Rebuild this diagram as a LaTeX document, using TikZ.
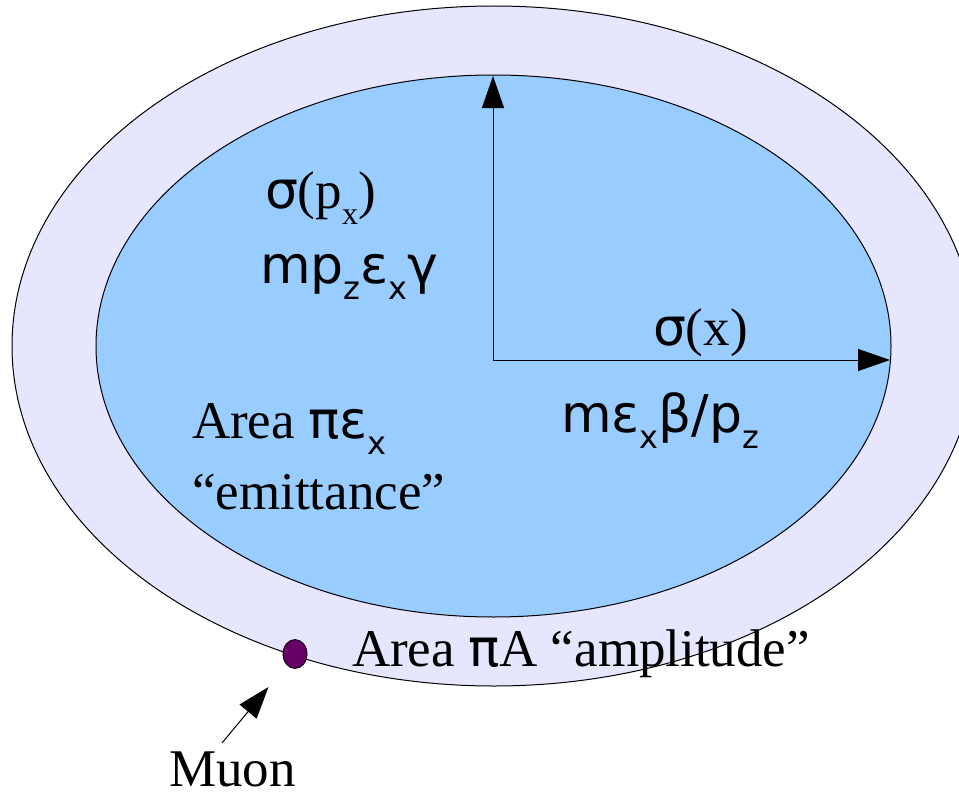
\documentclass[tikz,border=0pt]{standalone}
\usepackage{fontspec}
\setmainfont{Liberation Serif}
\newfontfamily\gr{DejaVu Sans}
\usetikzlibrary{arrows.meta,shapes.geometric}
\newcommand\subsc[1]{\raisebox{-16pt}{\fontsize{32}{32}\selectfont #1}}
\newcommand\serifsize{\fontsize{53}{60}\selectfont}
\newcommand\sanssize{\fontsize{52}{56}\selectfont}
\begin{document}
\begin{tikzpicture}[x=1pt,y=-1pt,
  lbl/.style={anchor=base west,inner sep=0pt,outer sep=0pt},
  bigtip/.style={-{Triangle[length=32pt,width=22pt]}},
  thin line/.style={line width=1pt}]
\useasboundingbox (0,0) rectangle (959,792);
\begin{scope}
\clip (0,0) rectangle (959,792);
\filldraw[fill={rgb,255:red,230;green,230;blue,255},thin line] (494,346) ellipse [x radius=482, y radius=340];
\end{scope}
\filldraw[fill={rgb,255:red,153;green,204;blue,255},thin line] (493.5,346) ellipse [x radius=397.5, y radius=271];
\coordinate (O) at (493,360);
\coordinate (T) at (493,76);
\coordinate (R) at (890,360);
\draw[thin line,bigtip] (O) -- (T);
\draw[thin line,bigtip] (O) -- (R);
\node[lbl] (spx) at (265,208) {\sanssize{\gr σ}\serifsize(p\subsc{x})};
\node[lbl] (mpz) at (260,283) {\sanssize\gr mp\subsc{z}ε\subsc{x}γ};
\node[lbl] (sx) at (653,345) {\sanssize{\gr σ}\serifsize(x)};
\node[lbl] (meb) at (561,432) {\sanssize\gr mε\subsc{x}β/p\subsc{z}};
\node[lbl] (area) at (192,438) {\serifsize Area {\gr\sanssize πε\subsc{x}}};
\node[lbl] (emit) at (192,509) {\serifsize “emittance”};
\node[lbl] (amp) at (352,666) {\serifsize Area {\gr\sanssize π}A “amplitude”};
\node[ellipse,draw,line width=0.8pt,fill={rgb,255:red,102;green,0;blue,102},minimum width=24pt,minimum height=29pt,inner sep=0pt] (dot) at (295,654) {};
\node[lbl] (muon) at (169,786) {\serifsize Muon};
\coordinate (mstart) at (222,743);
\coordinate (mtip) at (268.5,687);
\draw[thin line,bigtip] (mstart) -- (mtip);
\end{tikzpicture}
\end{document}
